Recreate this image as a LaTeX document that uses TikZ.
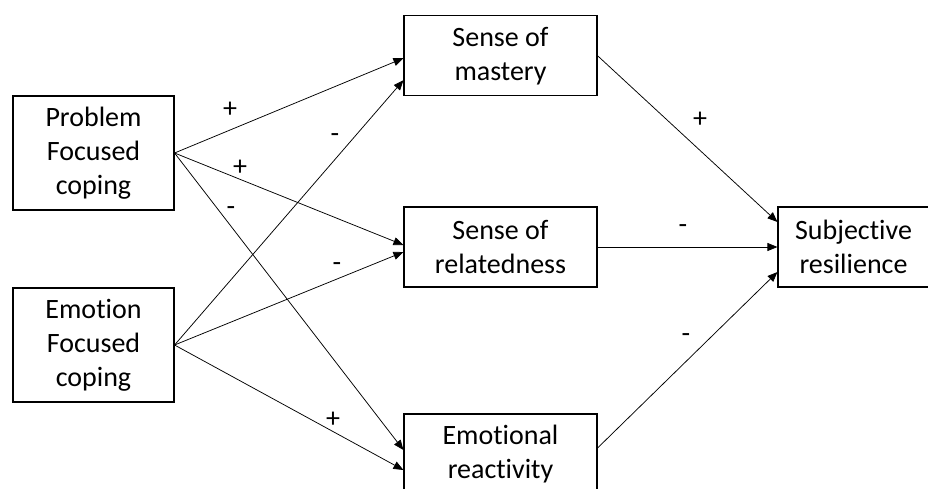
\documentclass[tikz,border=0pt]{standalone}
\usepackage{fontspec}
\setmainfont[Ligatures=CommonOff]{Carlito}
\usetikzlibrary{arrows.meta}
\begin{document}
\begin{tikzpicture}[x=1pt,y=-1pt,
  box/.style={draw,line width=1.1pt,align=center,inner sep=0pt,
    font=\fontsize{28}{34}\selectfont},
  sign/.style={font=\fontsize{28}{34}\selectfont,inner sep=0pt},
  link/.style={line width=0.75pt,-{Triangle[length=10pt,width=8pt]}}]
\useasboundingbox (0,0) rectangle (928,488);
% predictors
\node[box,minimum width=161pt,minimum height=114pt] (prob) at (93.5,153) {Problem\\Focused\\coping};
\node[box,minimum width=161pt,minimum height=114pt] (emo) at (93.5,345) {Emotion\\Focused\\coping};
% mediators
\node[box,minimum width=193pt,minimum height=80pt] (mast) at (500.5,55.7) {Sense of\\mastery};
\node[box,minimum width=193pt,minimum height=80pt] (rel) at (500.5,247) {Sense of\\relatedness};
\node[box,minimum width=193pt,minimum height=80pt] (reac) at (500.5,454) {Emotional\\reactivity};
% outcome
\node[box,minimum width=151pt,minimum height=80pt] (res) at (853.5,247) {Subjective\\resilience};
% paths from coping styles
\draw[link] (prob.east) -- ([yshift=-2.5pt]mast.west);
\draw[link] (prob.east) -- ([yshift=2pt]rel.west);
\draw[link] (prob.east) -- ([yshift=4pt]reac.west);
\draw[link] (emo.east) -- ([yshift=-24.5pt]mast.west);
\draw[link] (emo.east) -- ([yshift=-5pt]rel.west);
\draw[link] (emo.east) -- ([yshift=-16pt]reac.west);
% paths to resilience
\draw[link] (mast.east) -- ([yshift=25pt]res.west);
\draw[link] (rel.east) -- (res.west);
\draw[link] ([yshift=6pt]reac.east) -- ([yshift=-25pt]res.west);
% signs
\node[sign] (s1) at (230,110) {+};
\node[sign] (s2) at (335,138) {-};
\node[sign] (s3) at (240,168) {+};
\node[sign] (s4) at (231,211) {-};
\node[sign] (s5) at (337,267) {-};
\node[sign] (s6) at (333,420) {+};
\node[sign] (s7) at (700,120) {+};
\node[sign] (s8) at (683,229) {-};
\node[sign] (s9) at (686,338) {-};
\end{tikzpicture}
\end{document}
